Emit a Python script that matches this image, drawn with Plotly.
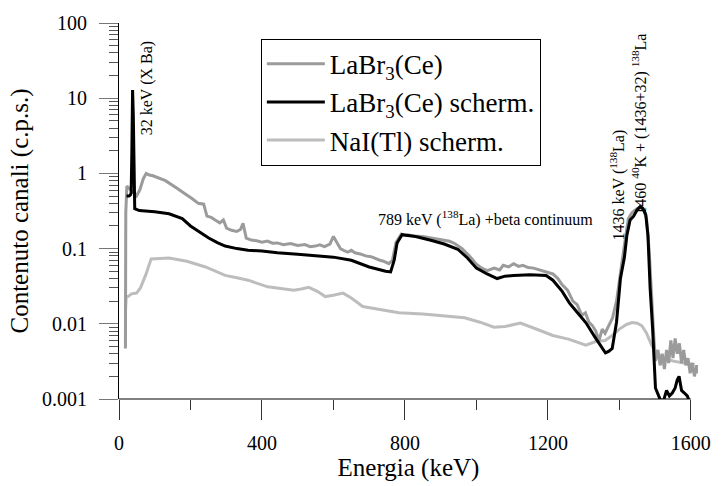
import plotly.graph_objects as go

# ---- data (energy in keV, counts in c.p.s.) ----
labr_E = [18, 19, 22, 26, 32, 40, 49, 58, 68, 76, 85, 95, 113, 130, 159, 180, 205, 222, 237, 246,
          258, 269, 282, 292, 301, 315, 329, 340, 347, 356, 370, 385, 400, 415, 430, 443, 460, 480, 500, 520,
          535, 549, 562, 575, 590, 600, 610, 620, 630, 640, 650, 660, 675, 690, 705, 719, 730, 740, 755, 765,
          775, 790, 800, 810, 825, 850, 870, 890, 910, 925, 939, 960, 980, 1000, 1015, 1030, 1050, 1065, 1075, 1090,
          1104, 1118, 1130, 1145, 1160, 1175, 1190, 1214, 1228, 1240, 1255, 1270, 1282, 1295, 1305, 1315, 1325, 1334, 1343, 1352,
          1360, 1370, 1381, 1392, 1403, 1415, 1425, 1435, 1450, 1460, 1468, 1476, 1483, 1490, 1497, 1501, 1508, 1514, 1520, 1526,
          1532, 1538, 1544, 1550, 1556, 1562, 1568, 1574, 1580, 1586, 1592, 1598, 1604, 1610, 1616, 1620]
labr_V = [0.0047, 0.3, 0.68, 0.65, 0.6, 0.55, 0.5, 0.6, 0.85, 1.0, 0.95, 0.93, 0.87, 0.8, 0.65, 0.56, 0.46, 0.4, 0.39, 0.27,
          0.26, 0.24, 0.22, 0.24, 0.187, 0.175, 0.169, 0.18, 0.217, 0.138, 0.13, 0.127, 0.122, 0.126, 0.118, 0.119, 0.113, 0.117, 0.11, 0.113,
          0.106, 0.108, 0.112, 0.106, 0.115, 0.145, 0.12, 0.099, 0.094, 0.09, 0.095, 0.088, 0.085, 0.08, 0.078, 0.073, 0.07, 0.068, 0.063, 0.07,
          0.12, 0.156, 0.15, 0.152, 0.147, 0.145, 0.14, 0.135, 0.13, 0.125, 0.117, 0.1, 0.08, 0.062, 0.055, 0.051, 0.055, 0.052, 0.06, 0.057,
          0.063, 0.058, 0.06, 0.056, 0.055, 0.052, 0.05, 0.046, 0.04, 0.033, 0.028, 0.02, 0.018, 0.013, 0.014, 0.0105, 0.0094, 0.008, 0.006, 0.0085,
          0.0075, 0.0094, 0.012, 0.02, 0.044, 0.12, 0.25, 0.3, 0.34, 0.36, 0.33, 0.25, 0.1, 0.02, 0.006, 0.0032, 0.0045, 0.0028, 0.004, 0.0025,
          0.0045, 0.003, 0.006, 0.0035, 0.0064, 0.004, 0.0055, 0.003, 0.0045, 0.0028, 0.0035, 0.0022, 0.003, 0.002, 0.0028, 0.0022]

scherm_E = [21, 28, 32, 34, 36, 37, 38, 40, 42, 44, 57, 100, 140, 177, 200, 223, 251, 275, 297, 330,
            361, 400, 443, 500, 550, 600, 650, 700, 746, 760, 770, 778, 792, 830, 875, 910, 948, 975, 1000, 1030,
            1058, 1080, 1104, 1150, 1195, 1214, 1240, 1260, 1283, 1306, 1334, 1350, 1361, 1370, 1380, 1392, 1403, 1414, 1421, 1430,
            1440, 1450, 1458, 1466, 1474, 1480, 1486, 1493, 1501, 1510, 1518, 1525, 1532, 1540, 1548, 1556, 1562, 1567, 1574, 1582,
            1590, 1597, 1600]
scherm_V = [0.5, 0.5, 0.52, 0.55, 2.0, 8.0, 12.8, 6.0, 1.0, 0.34, 0.32, 0.31, 0.29, 0.25, 0.2, 0.169, 0.138, 0.12, 0.108, 0.1,
            0.095, 0.093, 0.088, 0.084, 0.08, 0.077, 0.07, 0.057, 0.05, 0.049, 0.07, 0.119, 0.153, 0.145, 0.128, 0.115, 0.098, 0.075, 0.055, 0.046,
            0.04, 0.043, 0.044, 0.045, 0.044, 0.038, 0.027, 0.019, 0.014, 0.0104, 0.0064, 0.005, 0.0041, 0.0043, 0.0047, 0.0105, 0.04, 0.076, 0.15, 0.24,
            0.27, 0.33, 0.36, 0.34, 0.28, 0.15, 0.03, 0.0086, 0.0014, 0.0011, 0.0009, 0.001, 0.0013, 0.0011, 0.0012, 0.0014, 0.0018, 0.002, 0.0013, 0.0012,
            0.0011, 0.0009, 0.0008]

nai_E = [18, 20, 25, 35, 49, 60, 75, 90, 140, 190, 242, 275, 297, 330, 361, 416, 443, 489, 510, 531,
         555, 577, 600, 627, 650, 682, 730, 783, 850, 920, 967, 1010, 1049, 1080, 1123, 1160, 1214, 1260, 1306, 1334,
         1360, 1380, 1400, 1420, 1436, 1450, 1463, 1476, 1490, 1505, 1523, 1550, 1580, 1611]
nai_V = [0.015, 0.023, 0.023, 0.025, 0.0256, 0.03, 0.045, 0.073, 0.075, 0.068, 0.057, 0.049, 0.044, 0.041, 0.038, 0.031, 0.0297, 0.028, 0.029, 0.0305,
         0.027, 0.023, 0.024, 0.0256, 0.022, 0.017, 0.0155, 0.014, 0.0135, 0.0127, 0.012, 0.0105, 0.009, 0.0092, 0.0102, 0.0088, 0.007, 0.0062, 0.0052, 0.0058,
         0.006, 0.007, 0.0085, 0.0098, 0.0104, 0.0102, 0.0094, 0.0075, 0.0052, 0.004, 0.0035, 0.0032, 0.003, 0.0029]

x_ticks = [0, 400, 800, 1200, 1600]
x_minor = [200, 600, 1000, 1400]
y_ticks = [0.001, 0.01, 0.1, 1, 10, 100]
y_ticktext = ["0.001", "0.01", "0.1", "1", "10", "100"]

FONT = "Liberation Serif"

fig = go.Figure()
fig.add_trace(go.Scatter(x=nai_E, y=nai_V, mode="lines", name="NaI(Tl) scherm.",
                         line=dict(color="#bdbdbd", width=3), legendrank=3, legendgroup="c"))
fig.add_trace(go.Scatter(x=labr_E, y=labr_V, mode="lines", name="LaBr<sub>3</sub>(Ce)",
                         line=dict(color="#9b9b9b", width=3), legendrank=1, legendgroup="a"))
fig.add_trace(go.Scatter(x=scherm_E, y=scherm_V, mode="lines", name="LaBr<sub>3</sub>(Ce) scherm.",
                         line=dict(color="#000000", width=3), legendrank=2, legendgroup="b"))

ann_font = dict(family=FONT, size=16, color="black")
annotations = [
    dict(x=77, y=1.126, text="32 keV (X Ba)", textangle=-90),
    dict(x=1025, y=-0.604, text="789 keV (<sup>138</sup>La) +beta continuum", textangle=0),
    dict(x=1394, y=-0.157, text="1436 keV (<sup>138</sup>La)", textangle=-90),
    dict(x=1456, y=0.653, text="1460 <sup>40</sup>K + (1436+32) <sup>138</sup>La", textangle=-90),
]
for a in annotations:
    a.update(xref="x", yref="y", showarrow=False, font=ann_font)

fig.update_layout(
    width=723, height=486,
    margin=dict(l=119, r=16, t=16, b=84),
    paper_bgcolor="white", plot_bgcolor="white",
    font=dict(family=FONT, size=20, color="black"),
    showlegend=True,
    legend=dict(x=0.245, y=0.958, xanchor="left", yanchor="top",
                bordercolor="black", borderwidth=1, bgcolor="white",
                font=dict(family=FONT, size=27, color="black"),
                tracegroupgap=0, itemwidth=58),
    annotations=annotations,
    shapes=[dict(type="line", xref="x", yref="paper", x0=0, x1=1600, y0=0, y1=0,
                 line=dict(color="black", width=1))],
)

fig.update_xaxes(range=[0, 1620], tickmode="array", tickvals=x_ticks,
                 ticks="outside", ticklen=20, tickwidth=1, tickcolor="#333",
                 showline=False, showgrid=False, zeroline=False,
                 ticklabelstandoff=6, tickfont=dict(family=FONT, size=20, color="black"),
                 minor=dict(tickmode="array", tickvals=x_minor, ticks="outside", ticklen=10,
                            tickwidth=1, tickcolor="#333", showgrid=False),
                 title=dict(text="Energia (keV)", font=dict(family=FONT, size=25, color="black"), standoff=2))

y_minor = [m * 10 ** e for e in range(-3, 2) for m in range(2, 10)]
fig.update_yaxes(type="log", range=[-3, 2], tickmode="array", tickvals=y_ticks, ticktext=y_ticktext,
                 ticks="outside", ticklen=19, tickwidth=1, tickcolor="#777",
                 showline=True, linecolor="black", linewidth=1,
                 showgrid=False, zeroline=False, ticklabelstandoff=8,
                 tickfont=dict(family=FONT, size=20, color="black"),
                 minor=dict(tickmode="array", tickvals=y_minor, ticks="outside", ticklen=9,
                            tickwidth=1, tickcolor="#555", showgrid=False),
                 title=dict(text="Contenuto canali (c.p.s.)", font=dict(family=FONT, size=25, color="black"), standoff=6))

fig.write_html("out.html")
